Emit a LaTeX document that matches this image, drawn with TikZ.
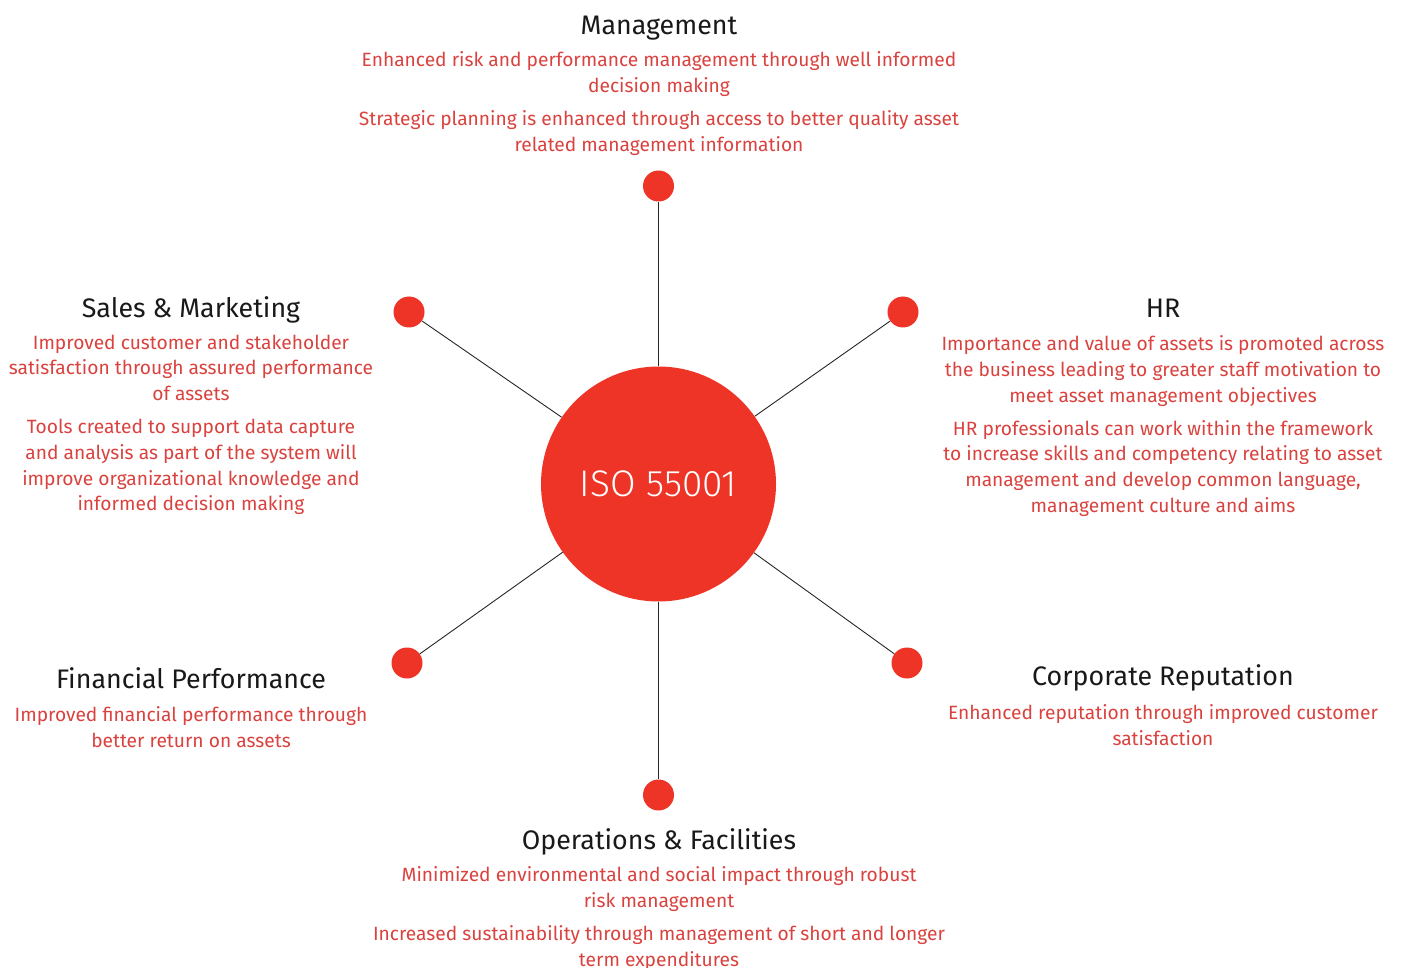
\documentclass[tikz,border=0pt]{standalone}
\usepackage{fontspec}
\setmainfont{Fira Sans}
\newfontfamily\isofont{Fira Sans Light}
\usetikzlibrary{positioning}
\definecolor{isored}{HTML}{EE3427}
\definecolor{benefitred}{HTML}{D9423E}

\begin{document}
\begin{tikzpicture}[
            x=1pt, y=-1pt,
            hub/.style={circle, fill=isored, minimum size=235pt, inner sep=0pt,
                text=white, font=\isofont\fontsize{37}{44}\selectfont},
            dot/.style={circle, fill=isored, minimum size=31pt, inner sep=0pt},
            area/.style={font=\fontsize{26.8}{32}\selectfont, text=black!90, inner sep=0pt, anchor=base},
            benefit/.style={font=\fontsize{19.2}{25.8}\selectfont, text=benefitred, align=center,
                inner sep=0pt, anchor=north},
            spoke/.style={draw=black!85, line width=0.9pt}
        ]
        \useasboundingbox (0,0) rectangle (1401,968);

        % Hub and dots
        \node[hub] (iso) at (658.5,484) {ISO 55001};
        \node[dot] (dmgmt) at (658.5,186) {};
        \node[dot] (dsales) at (409,312) {};
        \node[dot] (dhr) at (903,312) {};
        \node[dot] (dfin) at (407,663) {};
        \node[dot] (dcorp) at (907,663) {};
        \node[dot] (dops) at (658.5,795) {};

        % Spokes
        \path[spoke]
        (iso) edge (dmgmt)
        (iso) edge (dsales)
        (iso) edge (dhr)
        (iso) edge (dfin)
        (iso) edge (dcorp)
        (iso) edge (dops);

        % Areas
        \node[area] (mgmt) at (659,35) {Management};
        \node[area] (sales) at (191,318) {Sales \& Marketing};
        \node[area] (hr) at (1163,318) {HR};
        \node[area] (fin) at (191,688) {Financial Performance};
        \node[area] (corp) at (1163,685) {Corporate Reputation};
        \node[area] (ops) at (659,849) {Operations \& Facilities};

        % Benefits
        \node[benefit, below=16.5pt of mgmt.base] (mgmtben)
        {Enhanced risk and performance management through well informed\\
         decision making\\[7pt]
         Strategic planning is enhanced through access to better quality asset\\
         related management information};
        \node[benefit, below=16.5pt of sales.base] (salesben)
        {Improved customer and stakeholder\\
         satisfaction through assured performance\\
         of assets\\[7pt]
         Tools created to support data capture\\
         and analysis as part of the system will\\
         improve organizational knowledge and\\
         informed decision making};
        \node[benefit, below=17.5pt of hr.base] (hrben)
        {Importance and value of assets is promoted across\\
         the business leading to greater staff motivation to\\
         meet asset management objectives\\[7pt]
         HR professionals can work within the framework\\
         to increase skills and competency relating to asset\\
         management and develop common language,\\
         management culture and aims};
        \node[benefit, below=18.5pt of fin.base] (finben)
        {Improved financial performance through\\
         better return on assets};
        \node[benefit, below=19.5pt of corp.base] (corpben)
        {Enhanced reputation through improved customer\\
         satisfaction};
        \node[benefit, below=17.5pt of ops.base] (opsben)
        {Minimized environmental and social impact through robust\\
         risk management\\[7pt]
         Increased sustainability through management of short and longer\\
         term expenditures};

        \end{tikzpicture}
\end{document}
